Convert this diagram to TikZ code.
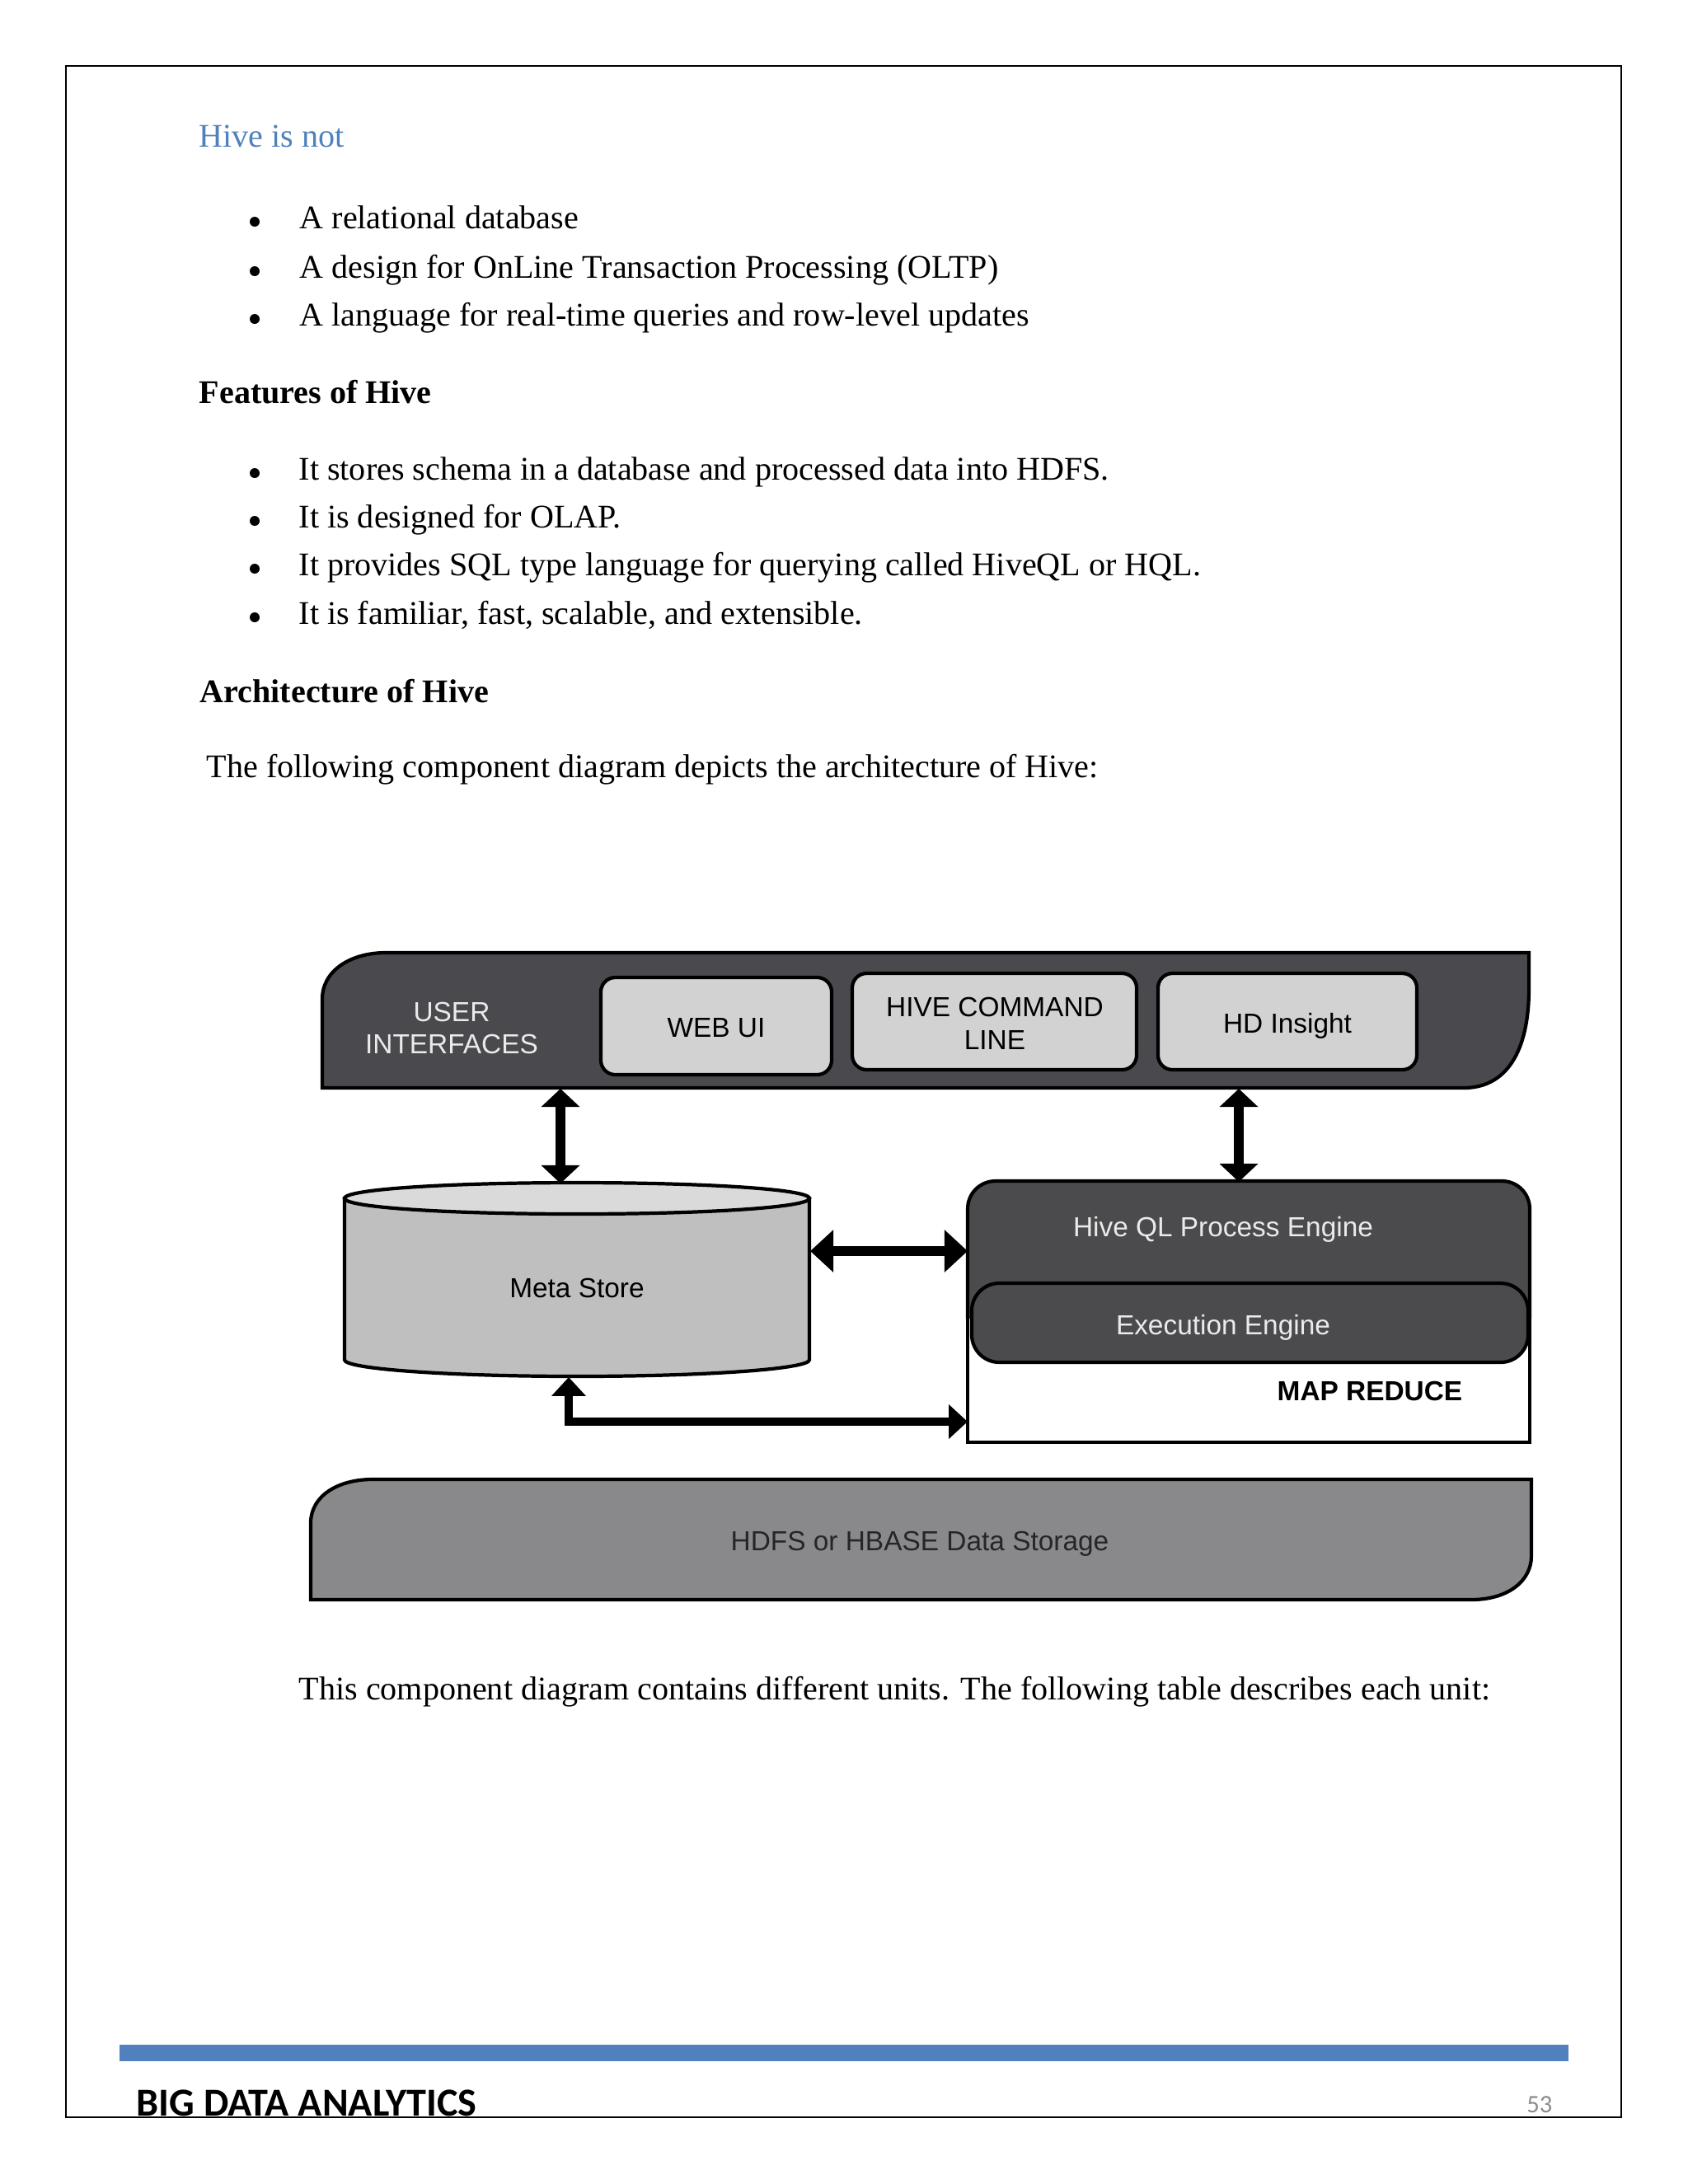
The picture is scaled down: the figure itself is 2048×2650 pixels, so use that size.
\documentclass[tikz,border=0pt]{standalone}
\usepackage{fontspec}
\setmainfont{Liberation Serif}
\newfontfamily\diagfont{Liberation Sans}
\newfontfamily\footfont{Carlito}
\usetikzlibrary{arrows.meta}
\definecolor{hblue}{HTML}{4F81BD}
\definecolor{uidark}{HTML}{4A494D}
\definecolor{boxgray}{HTML}{D2D2D3}
\definecolor{cylgray}{HTML}{BFBFC0}
\definecolor{cyltop}{HTML}{DADADB}
\definecolor{qldark}{HTML}{4B4B4E}
\definecolor{hdfsgray}{HTML}{89888B}
\definecolor{lighttext}{HTML}{EAEAEA}
\definecolor{numgray}{HTML}{8C8C8C}
\definecolor{barblue}{HTML}{5081BE}
\tikzset{
 bodytext/.style={anchor=base west, inner sep=0pt, font=\fontsize{11.4}{13.7}\selectfont},
 headtext/.style={anchor=base west, inner sep=0pt, font=\fontsize{11.4}{13.7}\selectfont\bfseries},
 dlabel/.style={anchor=base, inner sep=0pt, font=\diagfont\fontsize{9.5}{11.4}\selectfont},
 outline/.style={draw=black, line width=1.2pt},
 uibox/.style={outline, fill=boxgray, rounded corners=5pt},
 vdbl/.style={line width=3.4pt, {Triangle[width=13pt,length=6.3pt]}-{Triangle[width=13pt,length=6.3pt]}},
 hdbl/.style={line width=3.4pt, {Triangle[width=14.2pt,length=8pt]}-{Triangle[width=14.2pt,length=8pt]}},
 ldbl/.style={line width=2.6pt, {Triangle[width=11.5pt,length=6.5pt]}-{Triangle[width=11.5pt,length=6.5pt]}},
}
\begin{document}
\begin{tikzpicture}[x=0.01cm,y=-0.01cm]
\useasboundingbox (0,0) rectangle (2048,2650);
\fill[white] (0,0) rectangle (2048,2650);
% page frame
\draw[line width=0.7pt] (80,80) rectangle (1967,2569);

% ---- text ----
\node[bodytext, text=hblue] (hivenot) at (241,178) {Hive is not};
\foreach \y in {269,329,387} \fill (309,\y) circle (6);
\node[bodytext] (n1) at (363,277) {A relational database};
\node[bodytext] (n2) at (363,337) {A design for OnLine Transaction Processing (OLTP)};
\node[bodytext] (n3) at (363,395) {A language for real-time queries and row-level updates};

\node[headtext] (feat) at (241,489) {Features of Hive};
\foreach \y in {574,632,690,749} \fill (309,\y) circle (6);
\node[bodytext] (f1) at (362,582) {It stores schema in a database and processed data into HDFS.};
\node[bodytext] (f2) at (362,640) {It is designed for OLAP.};
\node[bodytext] (f3) at (362,698) {It provides SQL type language for querying called HiveQL or HQL.};
\node[bodytext] (f4) at (362,757) {It is familiar, fast, scalable, and extensible.};

\node[headtext] (arch) at (242,852) {Architecture of Hive};
\node[bodytext] (intro) at (250,943) {The following component diagram depicts the architecture of Hive:};

\node[bodytext] (outro) at (362,2062) {This component diagram contains different units. The following table describes each unit:};

% ---- diagram ----
% user interfaces bar
\filldraw[outline, fill=uidark] (391,1320) -- (391,1212) .. controls (391,1178) and (425,1156) .. (468,1156)
  -- (1855,1156) -- (1855,1200) .. controls (1855,1275) and (1828,1320) .. (1776,1320) -- cycle;
\node[dlabel, text=lighttext] (ui1) at (548,1239) {USER};
\node[dlabel, text=lighttext] (ui2) at (548,1278) {INTERFACES};
\draw[uibox] (729,1186) rectangle (1009,1304);
\node[dlabel] (webui) at (869,1258) {WEB UI};
\draw[uibox] (1034,1181) rectangle (1379,1298);
\node[dlabel] (cmd1) at (1207,1233) {HIVE COMMAND};
\node[dlabel] (cmd2) at (1207,1273) {LINE};
\draw[uibox] (1405,1181) rectangle (1719,1298);
\node[dlabel] (hdins) at (1562,1253) {HD Insight};

% meta store cylinder
\filldraw[outline, fill=cylgray] (418,1454) -- (418,1650) .. controls (418,1661) and (544,1670) .. (700,1670)
  .. controls (856,1670) and (982,1661) .. (982,1650) -- (982,1454) -- cycle;
\filldraw[outline, fill=cyltop] (418,1454) .. controls (418,1443) and (544,1435) .. (700,1435)
  .. controls (856,1435) and (982,1443) .. (982,1454) .. controls (982,1465) and (856,1473) .. (700,1473)
  .. controls (544,1473) and (418,1465) .. (418,1454) -- cycle;
\node[dlabel] (meta) at (700,1574) {Meta Store};

% map reduce / engines
\fill[white] (1174,1590) rectangle (1856,1750);
\draw[outline] (1174,1590) -- (1174,1750) -- (1856,1750) -- (1856,1590);
\fill[qldark] (1174,1600) -- (1174,1467) .. controls (1174,1448) and (1189,1433) .. (1208,1433)
  -- (1822,1433) .. controls (1841,1433) and (1856,1448) .. (1856,1467) -- (1856,1600) -- cycle;
\draw[outline] (1174,1600) -- (1174,1467) .. controls (1174,1448) and (1189,1433) .. (1208,1433)
  -- (1822,1433) .. controls (1841,1433) and (1856,1448) .. (1856,1467) -- (1856,1600);
\node[dlabel, text=lighttext] (hql) at (1484,1500) {Hive QL Process Engine};
\filldraw[outline, fill=qldark, rounded corners=9.5pt] (1179,1557) rectangle (1854,1653);
\node[dlabel, text=lighttext] (exec) at (1484,1619) {Execution Engine};
\node[dlabel, font=\diagfont\fontsize{9.5}{11.4}\selectfont\bfseries] (mr) at (1662,1699) {MAP REDUCE};

% HDFS bar
\filldraw[outline, fill=hdfsgray] (377,1941) -- (377,1848) .. controls (377,1815) and (410,1795) .. (452,1795)
  -- (1858,1795) -- (1858,1888) .. controls (1858,1918) and (1830,1941) .. (1785,1941) -- cycle;
\node[dlabel, text=black!85] (hdfs) at (1116,1881) {HDFS or HBASE Data Storage};

% connectors
\coordinate (uiA) at (680,1321);
\coordinate (msA) at (680,1436);
\coordinate (uiB) at (1503,1321);
\coordinate (qlB) at (1503,1434);
\coordinate (msR) at (983,1518);
\coordinate (qlL) at (1174,1518);
\coordinate (msBot) at (690,1671);
\coordinate (mrL) at (1174,1725);
\draw[vdbl] (uiA) -- (msA);
\draw[vdbl] (uiB) -- (qlB);
\draw[hdbl] (msR) -- (qlL);
\draw[ldbl] (msBot) |- (mrL);

% footer
\fill[barblue] (145,2481) rectangle (1903,2501);
\node[anchor=base west, inner sep=0pt, font=\footfont\bfseries\fontsize{13.7}{16}\selectfont] (foot) at (165,2567) {BIG DATA ANALYTICS};
\node[anchor=base east, inner sep=0pt, text=numgray, font=\footfont\fontsize{8.7}{10}\selectfont] (pnum) at (1884,2563) {53};
\end{tikzpicture}
\end{document}
